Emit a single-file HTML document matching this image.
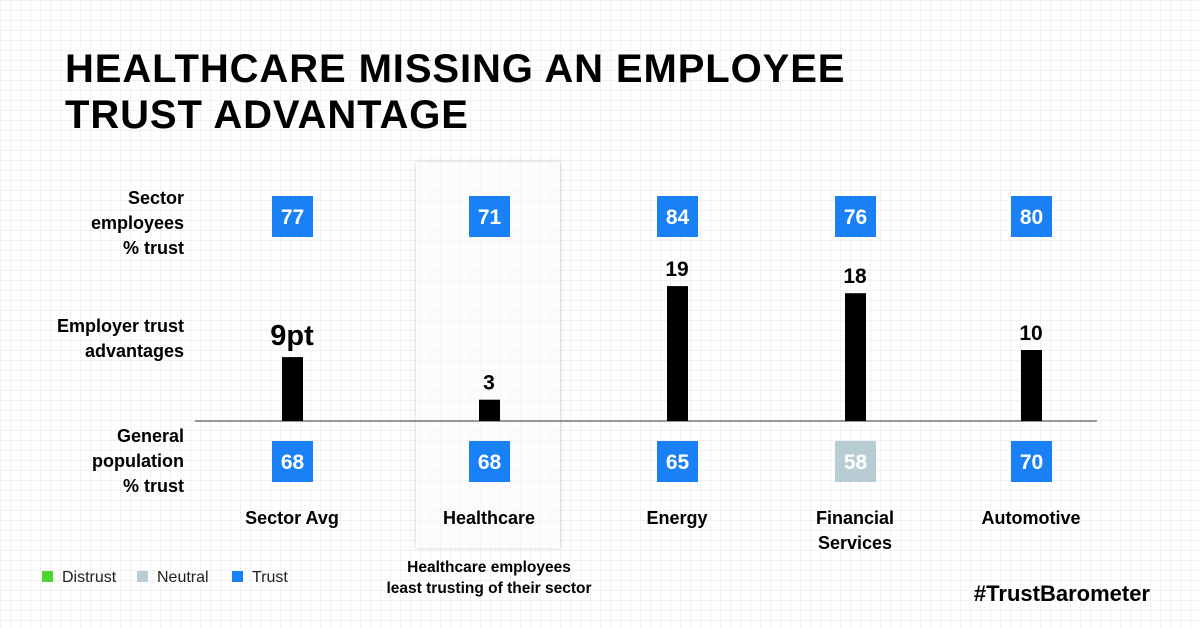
<!DOCTYPE html>
<html><head><meta charset="utf-8"><style>
body{margin:0;width:1200px;height:628px;overflow:hidden;font-family:"Liberation Sans",sans-serif;
background-color:#fff;background-image:linear-gradient(#f1f1f1 1px,transparent 1px),linear-gradient(90deg,#f1f1f1 1px,transparent 1px);background-size:10px 10px;position:relative}
.a{position:absolute}
.t{font-weight:bold;font-size:40px;left:65px;line-height:46px;top:46px;color:#000;letter-spacing:0.9px}
.rl{right:1016px;text-align:right;font-weight:bold;font-size:18px;line-height:25px}
</style></head><body>
<div class="a t">HEALTHCARE MISSING AN EMPLOYEE<br>TRUST ADVANTAGE</div>
<div class="a" style="left:416px;top:162px;width:144px;height:386px;background:rgba(250,250,250,0.6);box-shadow:0 0 4px rgba(0,0,0,0.18)"></div>
<div class="a rl" style="top:186px">Sector<br>employees<br>% trust</div>
<div class="a rl" style="top:314px">Employer trust<br>advantages</div>
<div class="a rl" style="top:424px">General<br>population<br>% trust</div>
<svg class="a" style="left:0;top:0" width="1200" height="628" id="chart"></svg>
<div class="a" style="left:42px;top:569px;font-size:16px;color:#222">
<span style="position:absolute;left:0;white-space:nowrap"><i style="display:inline-block;width:11px;height:11px;background:#4cd430;margin-right:9px"></i>Distrust</span>
<span style="position:absolute;left:95px;white-space:nowrap"><i style="display:inline-block;width:11px;height:11px;background:#b8ccd4;margin-right:9px"></i>Neutral</span>
<span style="position:absolute;left:190px;white-space:nowrap"><i style="display:inline-block;width:11px;height:11px;background:#1a80f5;margin-right:9px"></i>Trust</span>
</div>
<div class="a" style="left:349px;width:280px;text-align:center;top:557px;font-weight:bold;font-size:15.5px;line-height:21px">Healthcare employees<br>least trusting of their sector</div>
<div class="a" style="right:50px;top:581px;font-weight:bold;font-size:22px">#TrustBarometer</div>
<script>
const categories=["Sector Avg","Healthcare","Energy","Financial\nServices","Automotive"];
const sectorTrust=[77,71,84,76,80];
const advantage=[9,3,19,18,10];
const advLabels=["9pt","3","19","18","10"];
const generalTrust=[68,68,65,58,70];
const generalLevel=["trust","trust","trust","neutral","trust"];
const svg=document.getElementById('chart');const NS="http://www.w3.org/2000/svg";
const cx=[292,489,677,855,1031];const base=421,scale=7.1;
function y(v){return base-v*scale;}
function mk(t,a,txt){const e=document.createElementNS(NS,t);for(const k in a)e.setAttribute(k,a[k]);if(txt!=null)e.textContent=txt;svg.appendChild(e);return e;}
const ax=mk('line',{x1:195,x2:1097,y1:base,y2:base,stroke:'#777','stroke-width':1.5});


categories.forEach((c,i)=>{
 const x=cx[i];
 const b1=mk('rect',{x:x-20,y:196,width:41,height:41,fill:'#1a80f5'});
 
 
 const t1=mk('text',{x:x+0.5,y:224,'text-anchor':'middle','font-size':21,'font-weight':'bold',fill:'#fff','font-family':'Liberation Sans'},sectorTrust[i]);
 
 
 const bar=mk('rect',{x:x-10,y:y(advantage[i]),width:21,height:advantage[i]*scale,fill:'#000'});
 
 
 const big=i===0;
 const t2=mk('text',{x:x,y:y(advantage[i])-(big?12:10),'text-anchor':'middle','font-size':big?29:21,'font-weight':'bold','font-family':'Liberation Sans'},advLabels[i]);
 
 
 const b2=mk('rect',{x:x-20,y:441,width:41,height:41,fill:generalLevel[i]==='neutral'?'#b8ccd4':'#1a80f5'});
 
 
 const t3=mk('text',{x:x+0.5,y:469,'text-anchor':'middle','font-size':21,'font-weight':'bold',fill:'#fff','font-family':'Liberation Sans'},generalTrust[i]);
 
 
 c.split('\n').forEach((ln,j)=>{
  const t4=mk('text',{x:x,y:524+j*25,'text-anchor':'middle','font-size':18,'font-weight':'bold','font-family':'Liberation Sans'},ln);
  
  
 });
});
</script>
</body></html>
